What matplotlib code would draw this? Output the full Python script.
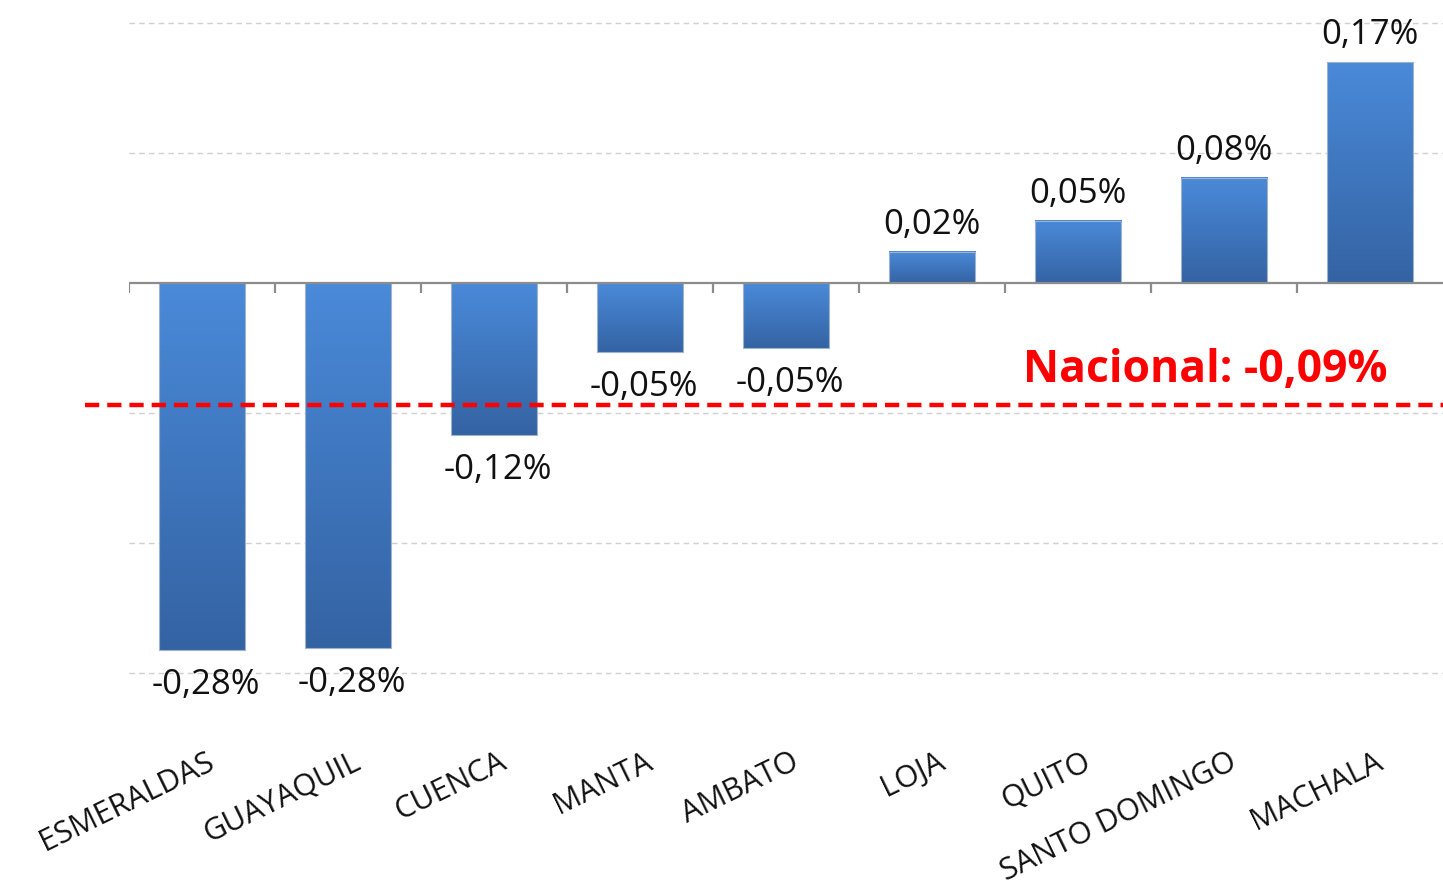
import numpy as np
import matplotlib
matplotlib.use("Agg")
import matplotlib.pyplot as plt
from matplotlib.colors import LinearSegmentedColormap

# datos
ciudades = ["ESMERALDAS", "GUAYAQUIL", "CUENCA", "MANTA", "AMBATO",
            "LOJA", "QUITO", "SANTO DOMINGO", "MACHALA"]
variacion = [-0.282, -0.281, -0.117, -0.053, -0.050, 0.024, 0.048, 0.081, 0.170]
etiquetas = ["-0,28%", "-0,28%", "-0,12%", "-0,05%", "-0,05%",
             "0,02%", "0,05%", "0,08%", "0,17%"]
nacional = -0.094
nacional_txt = "Nacional: -0,09%"
grid_y = [0.2, 0.1, -0.1, -0.2, -0.3]

plt.rcParams['font.family'] = ['Open Sans', 'DejaVu Sans']

fig = plt.figure(figsize=(14.43, 8.89), dpi=100, facecolor='white')
ax = fig.add_axes([129/1443, 1 - 673/889, 1 - 129/1443, (673 - 23)/889])
for s in ax.spines.values():
    s.set_visible(False)
ax.set_xticks([]); ax.set_yticks([])

# rejilla
for g in grid_y:
    ax.axhline(g, color='#d0d0d0', lw=1, ls=(0, (4, 3)), zorder=0, clip_on=False)

cmap = LinearSegmentedColormap.from_list('azul', ['#3463a3', '#4a8ad9'])
grad = np.linspace(0, 1, 256).reshape(-1, 1)
ancho = 0.59

for i, v in enumerate(variacion):
    x0, x1 = i - ancho/2, i + ancho/2
    y0, y1 = min(0, v), max(0, v)
    ax.imshow(grad, extent=[x0, x1, y0, y1], origin='lower', cmap=cmap,
              aspect='auto', zorder=2, interpolation='bicubic')
    ax.bar(i, v, width=ancho, facecolor='none', edgecolor='#9fb3cc', lw=0.8, zorder=3)
    if v >= 0:
        ax.annotate(etiquetas[i], (i, v), xytext=(0, 7), textcoords='offset points',
                    ha='center', va='bottom', fontsize=25, color='#111111')
    else:
        ax.annotate(etiquetas[i], (i, v), xytext=(3, -13), textcoords='offset points',
                    ha='center', va='top', fontsize=25, color='#111111')

ax.set_xlim(-0.5, len(ciudades) - 0.5)
ax.set_ylim(-0.3, 0.2)

# eje cero con marcas
ax.axhline(0, color='#8c8c8c', lw=1.6, zorder=4)
bordes = np.arange(len(ciudades)) - 0.5
ax.vlines(bordes, 0, -0.008, color='#8c8c8c', lw=1.6, zorder=4)

# línea nacional
ax.plot([-44/1314, 1], [nacional, nacional], transform=ax.get_yaxis_transform(),
        color='#ff0000', lw=3.2, ls=(0, (3.2, 1.8)), clip_on=False, zorder=5)
ax.annotate(nacional_txt, (len(ciudades) - 1 + 0.12, nacional), xytext=(0, 9),
            textcoords='offset points', ha='right', va='bottom', fontsize=32,
            fontweight='bold', color='#ff0000', zorder=6)

# etiquetas de categorías
for i, c in enumerate(ciudades):
    ax.annotate(c, (i, 0), xycoords=ax.get_xaxis_transform(), xytext=(3, -53),
                textcoords='offset points', ha='right', va='top', rotation=26,
                rotation_mode='anchor', fontsize=22, color='#111111')

fig.savefig('out.png', dpi=100, facecolor='white')
